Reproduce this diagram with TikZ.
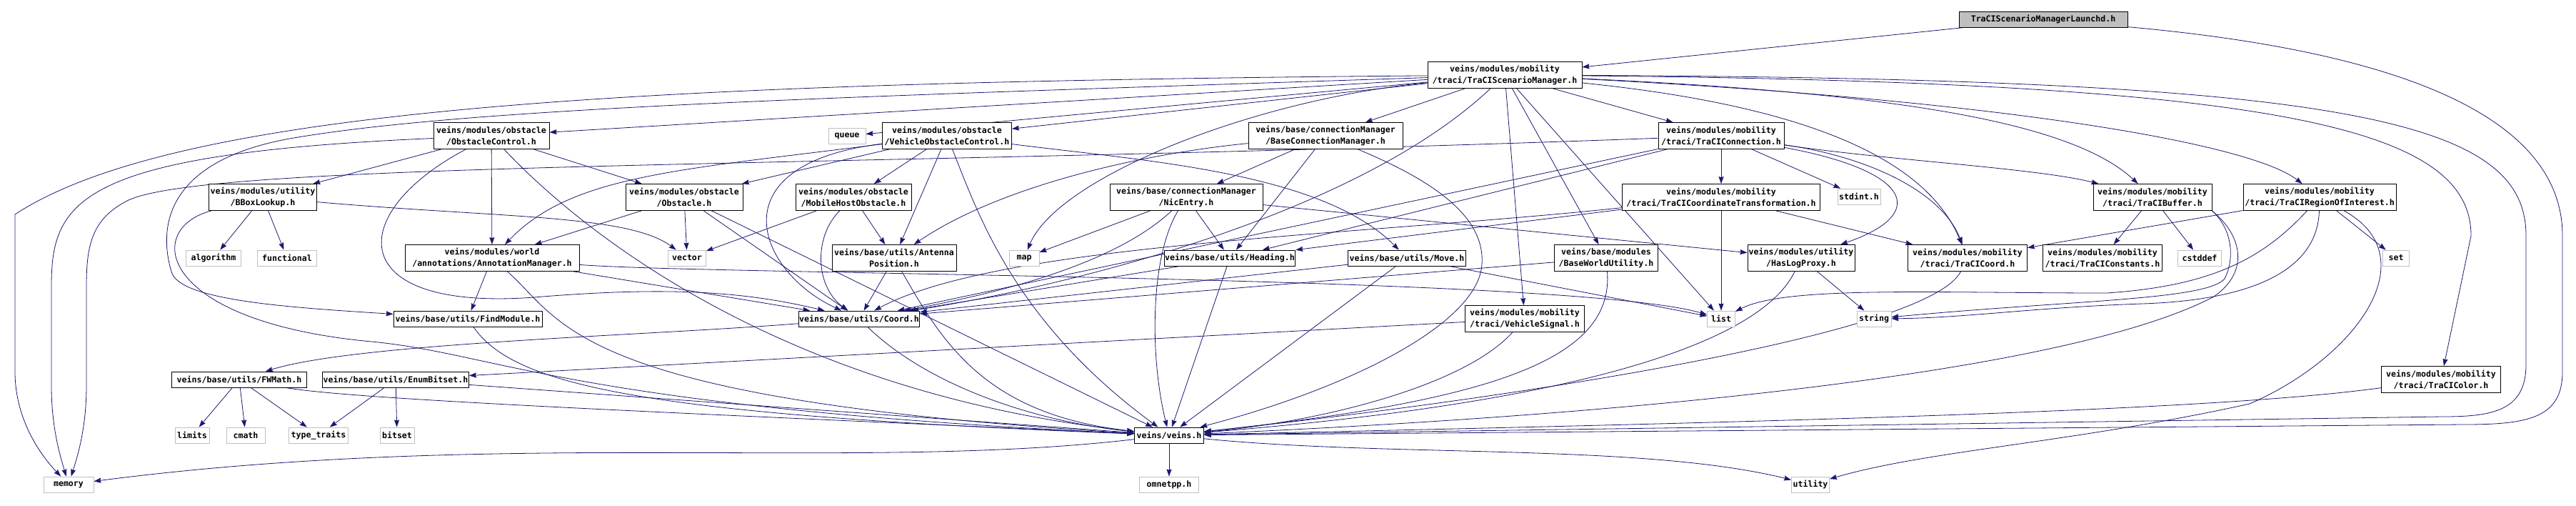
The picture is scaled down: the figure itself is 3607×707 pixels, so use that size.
\documentclass[tikz,border=0pt]{standalone}
\usepackage{fontspec}
\newfontfamily\graphfont{DejaVu Sans Mono}
\usetikzlibrary{arrows.meta,backgrounds}
\definecolor{edgeblue}{RGB}{25,25,112}

\begin{document}
\begin{tikzpicture}[>={Stealth[length=10pt,width=7pt,inset=1pt]},x=1pt,y=-1pt,
 font=\fontsize{11.6}{16.3}\graphfont\bfseries,
 hdr/.style={draw,fill=white,align=center,inner xsep=1pt,inner ysep=3pt,minimum height=22pt,line width=0.8pt},
 dbl/.style={minimum height=37pt},
 syshdr/.style={hdr,draw=black!25},
 mainhdr/.style={hdr,fill=black!25},
 dep/.style={->,draw=edgeblue,line width=0.8pt}]
\useasboundingbox (0,0) rectangle (3607,707);
\node[mainhdr,minimum width=236pt] (root) at (2861,27) {TraCIScenarioManagerLaunchd.h};
\node[hdr,dbl,minimum width=216pt] (tsm) at (2107,105) {veins/modules/mobility\\/traci/TraCIScenarioManager.h};
\node[hdr,dbl,minimum width=162pt] (oc) at (688,190) {veins/modules/obstacle\\/ObstacleControl.h};
\node[syshdr,minimum width=52pt] (queue) at (1186,190) {queue};
\node[hdr,dbl,minimum width=181pt] (voc) at (1326,190) {veins/modules/obstacle\\/VehicleObstacleControl.h};
\node[hdr,dbl,minimum width=216pt] (bcm) at (1856,190) {veins/base/connectionManager\\/BaseConnectionManager.h};
\node[hdr,dbl,minimum width=176pt] (tcon) at (2410,190) {veins/modules/mobility\\/traci/TraCIConnection.h};
\node[hdr,dbl,minimum width=151pt] (bbox) at (368,276) {veins/modules/utility\\/BBoxLookup.h};
\node[hdr,dbl,minimum width=164pt] (obst) at (958,276) {veins/modules/obstacle\\/Obstacle.h};
\node[hdr,dbl,minimum width=162pt] (mho) at (1195,276) {veins/modules/obstacle\\/MobileHostObstacle.h};
\node[hdr,dbl,minimum width=214pt] (nic) at (1661,276) {veins/base/connectionManager\\/NicEntry.h};
\node[hdr,dbl,minimum width=277pt] (tcct) at (2410,276) {veins/modules/mobility\\/traci/TraCICoordinateTransformation.h};
\node[syshdr,minimum width=60pt] (stdint) at (2603,275) {stdint.h};
\node[hdr,dbl,minimum width=166pt] (tbuf) at (3014,276) {veins/modules/mobility\\/traci/TraCIBuffer.h};
\node[hdr,dbl,minimum width=214pt] (troi) at (3248,276) {veins/modules/mobility\\/traci/TraCIRegionOfInterest.h};
\node[syshdr,minimum width=77pt] (algo) at (299,361) {algorithm};
\node[syshdr,minimum width=83pt] (func) at (402,361) {functional};
\node[hdr,dbl,minimum width=244pt] (anno) at (689,361) {veins/modules/world\\/annotations/AnnotationManager.h};
\node[syshdr,minimum width=53pt] (vector) at (962,361) {vector};
\node[hdr,dbl,minimum width=174pt] (antpos) at (1252,361) {veins/base/utils/Antenna\\Position.h};
\node[syshdr,minimum width=42pt] (map) at (1434,361) {map};
\node[hdr,minimum width=182pt] (heading) at (1722,361) {veins/base/utils/Heading.h};
\node[hdr,minimum width=165pt] (move) at (1970,361) {veins/base/utils/Move.h};
\node[hdr,dbl,minimum width=145pt] (bwu) at (2249,361) {veins/base/modules\\/BaseWorldUtility.h};
\node[hdr,dbl,minimum width=150pt] (hlp) at (2522,361) {veins/modules/utility\\/HasLogProxy.h};
\node[hdr,dbl,minimum width=167pt] (tcoord) at (2755,361) {veins/modules/mobility\\/traci/TraCICoord.h};
\node[hdr,dbl,minimum width=167pt] (tconst) at (2944,361) {veins/modules/mobility\\/traci/TraCIConstants.h};
\node[syshdr,minimum width=61pt] (cstddef) at (3080,361) {cstddef};
\node[syshdr,minimum width=37pt] (set) at (3355,361) {set};
\node[hdr,minimum width=208pt] (findmod) at (655,446) {veins/base/utils/FindModule.h};
\node[hdr,minimum width=168pt] (coord) at (1203,446) {veins/base/utils/Coord.h};
\node[hdr,dbl,minimum width=167pt] (vsig) at (2135,446) {veins/modules/mobility\\/traci/VehicleSignal.h};
\node[syshdr,minimum width=39pt] (list) at (2410,446) {list};
\node[syshdr,minimum width=48pt] (string) at (2624,446) {string};
\node[hdr,minimum width=189pt] (fwmath) at (335,531) {veins/base/utils/FWMath.h};
\node[hdr,minimum width=205pt] (enumbs) at (554,531) {veins/base/utils/EnumBitset.h};
\node[hdr,dbl,minimum width=167pt] (tcol) at (3418,531) {veins/modules/mobility\\/traci/TraCIColor.h};
\node[syshdr,minimum width=48pt] (limits) at (269,609) {limits};
\node[syshdr,minimum width=54pt] (cmath) at (344,609) {cmath};
\node[syshdr,minimum width=83pt] (typetr) at (446,609) {type\_traits};
\node[syshdr,minimum width=48pt] (bitset) at (556,609) {bitset};
\node[hdr,minimum width=97pt] (veins) at (1637,609) {veins/veins.h};
\node[syshdr,minimum width=70pt] (memory) at (96,678) {memory};
\node[syshdr,minimum width=83pt] (omnetpp) at (1637,678) {omnetpp.h};
\node[syshdr,minimum width=53pt] (utility) at (2535,678) {utility};
\begin{scope}[on background layer]
% launchd
\draw[dep] (root) -- (tsm);
\draw[dep] (root) .. controls (3450,80) and (3588,200) .. (3588,330) -- (3588,520) .. controls (3588,585) and (3540,594) .. (3450,594) -- (veins);
% scenario manager
\draw[dep] (tsm) -- (queue);
\draw[dep] (tsm) -- (oc);
\draw[dep] (tsm) -- (voc);
\draw[dep] (tsm) -- (bcm);
\draw[dep] (tsm) -- (tcon);
\draw[dep] (tsm) -- (bwu);
\draw[dep] (tsm) -- (vsig);
\draw[dep] (tsm) -- (list);
\draw[dep] (tsm) .. controls (1750,140) and (1480,250) .. (map);
\draw[dep] (tsm) .. controls (1900,300) and (1500,400) .. (coord);
\draw[dep] (tsm) .. controls (900,115) and (250,150) .. (21,300) -- (21,520) .. controls (21,590) and (60,640) .. (memory);
\draw[dep] (tsm) .. controls (1200,135) and (650,150) .. (400,195) .. controls (220,230) and (225,330) .. (240,380) .. controls (250,420) and (400,430) .. (findmod);
\draw[dep] (tsm) .. controls (2650,130) and (2900,170) .. (tbuf);
\draw[dep] (tsm) .. controls (2800,140) and (3150,200) .. (troi);
\draw[dep] (tsm) .. controls (2550,150) and (2700,230) .. (tcoord);
\draw[dep] (tsm) .. controls (3200,115) and (3460,180) .. (3460,330) -- (tcol);
\draw[dep] (tsm) .. controls (3300,110) and (3537,170) .. (3537,330) -- (3537,510) .. controls (3537,575) and (3490,583) .. (3420,583) -- (veins);
% obstacle control
\draw[dep] (oc) -- (bbox);
\draw[dep] (oc) -- (obst);
\draw[dep] (oc) -- (anno);
\draw[dep] (oc) .. controls (110,215) and (72,280) .. (72,400) -- (72,540) .. controls (72,600) and (85,640) .. (memory);
\draw[dep] (oc) .. controls (480,300) and (480,440) .. (760,415) .. controls (950,400) and (1050,410) .. (coord);
\draw[dep] (oc) .. controls (820,330) and (1100,550) .. (veins);
% vehicle obstacle control
\draw[dep] (voc) -- (obst);
\draw[dep] (voc) -- (mho);
\draw[dep] (voc) -- (antpos);
\draw[dep] (voc) .. controls (950,238) and (800,245) .. (anno);
\draw[dep] (voc) .. controls (1000,230) and (1060,380) .. (coord);
\draw[dep] (voc) .. controls (1600,225) and (1850,240) .. (move);
\draw[dep] (voc) .. controls (1370,300) and (1420,450) .. (veins);
% connection manager
\draw[dep] (bcm) -- (nic);
\draw[dep] (bcm) -- (heading);
\draw[dep] (bcm) .. controls (1600,215) and (1400,260) .. (antpos);
\draw[dep] (bcm) .. controls (2000,250) and (2080,300) .. (2075,370) .. controls (2070,450) and (1900,540) .. (veins);
\draw[dep] (nic) -- (map);
\draw[dep] (nic) -- (heading);
\draw[dep] (nic) -- (hlp);
\draw[dep] (nic) .. controls (1560,370) and (1400,410) .. (coord);
\draw[dep] (nic) .. controls (1610,360) and (1610,500) .. (veins);
% traci connection
\draw[dep] (tcon) -- (tcct);
\draw[dep] (tcon) -- (stdint);
\draw[dep] (tcon) -- (heading);
\draw[dep] (tcon) -- (coord);
\draw[dep] (tcon) .. controls (2650,225) and (2850,235) .. (tbuf);
\draw[dep] (tcon) .. controls (2680,240) and (2700,300) .. (hlp);
\draw[dep] (tcon) .. controls (2620,220) and (2720,270) .. (tcoord);
\draw[dep] (tcon) .. controls (1200,235) and (300,225) .. (180,280) .. controls (130,305) and (121,340) .. (121,400) -- (121,540) .. controls (121,600) and (108,640) .. (memory);
\draw[dep] (tcct) -- (tcoord);
\draw[dep] (tcct) -- (list);
\draw[dep] (tcct) -- (heading);
\draw[dep] (tcct) .. controls (1900,330) and (1400,340) .. (coord);
% second row
\draw[dep] (bbox) -- (algo);
\draw[dep] (bbox) -- (func);
\draw[dep] (bbox) .. controls (700,305) and (880,300) .. (vector);
\draw[dep] (bbox) .. controls (200,320) and (220,450) .. (520,478) .. controls (700,495) and (800,570) .. (veins);
\draw[dep] (obst) -- (vector);
\draw[dep] (obst) -- (anno);
\draw[dep] (obst) -- (coord);
\draw[dep] (obst) -- (veins);
\draw[dep] (mho) -- (vector);
\draw[dep] (mho) -- (antpos);
\draw[dep] (mho) .. controls (1140,330) and (1140,400) .. (coord);
\draw[dep] (tbuf) -- (tconst);
\draw[dep] (tbuf) -- (cstddef);
\draw[dep] (tbuf.south east) .. controls (3125,320) and (3130,360) .. (3115,390) .. controls (3090,420) and (2900,420) .. (string);
\draw[dep] (tbuf.south east) .. controls (3140,330) and (3150,380) .. (3100,415) .. controls (2900,520) and (2300,580) .. (veins);
\draw[dep] (troi) -- (tcoord);
\draw[dep] (troi) -- (set);
\draw[dep] (troi) .. controls (3170,360) and (3100,400) .. (2950,410) .. controls (2700,410) and (2500,400) .. (list);
\draw[dep] (troi) .. controls (3245,380) and (3150,420) .. (3000,425) .. controls (2850,430) and (2750,445) .. (string);
\draw[dep] (troi) .. controls (3400,360) and (3300,500) .. (3150,565) .. controls (2900,620) and (2700,630) .. (utility);
% third row
\draw[dep] (anno) -- (findmod);
\draw[dep] (anno) -- (coord);
\draw[dep] (anno) .. controls (1000,385) and (2200,385) .. (list);
\draw[dep] (anno) .. controls (790,450) and (800,560) .. (veins);
\draw[dep] (antpos) -- (coord);
\draw[dep] (antpos) .. controls (1320,480) and (1380,580) .. (veins);
\draw[dep] (heading) -- (coord);
\draw[dep] (heading) -- (veins);
\draw[dep] (move) -- (coord);
\draw[dep] (move) -- (list);
\draw[dep] (move) -- (veins);
\draw[dep] (bwu) -- (coord);
\draw[dep] (bwu) .. controls (2260,500) and (2100,560) .. (veins);
\draw[dep] (hlp) -- (string);
\draw[dep] (hlp) .. controls (2470,470) and (2250,560) .. (veins);
\draw[dep] (tcoord) .. controls (2700,470) and (2100,560) .. (veins);
% lower rows
\draw[dep] (findmod) .. controls (720,540) and (900,580) .. (veins);
\draw[dep] (coord) .. controls (900,470) and (500,480) .. (fwmath);
\draw[dep] (coord) .. controls (1300,540) and (1450,590) .. (veins);
\draw[dep] (vsig) -- (enumbs);
\draw[dep] (vsig) .. controls (2050,540) and (1850,590) .. (veins);
\draw[dep] (fwmath) -- (limits);
\draw[dep] (fwmath) -- (cmath);
\draw[dep] (fwmath) -- (typetr);
\draw[dep] (fwmath) .. controls (500,560) and (1000,580) .. (veins);
\draw[dep] (enumbs) -- (typetr);
\draw[dep] (enumbs) -- (bitset);
\draw[dep] (enumbs) -- (veins);
\draw[dep] (tcol) .. controls (3100,575) and (2500,590) .. (veins);
% veins.h
\draw[dep] (veins) -- (omnetpp);
\draw[dep] (veins) .. controls (1200,660) and (700,600) .. (memory);
\draw[dep] (veins) .. controls (1950,640) and (2300,620) .. (utility);
\end{scope}
\end{tikzpicture}
\end{document}
